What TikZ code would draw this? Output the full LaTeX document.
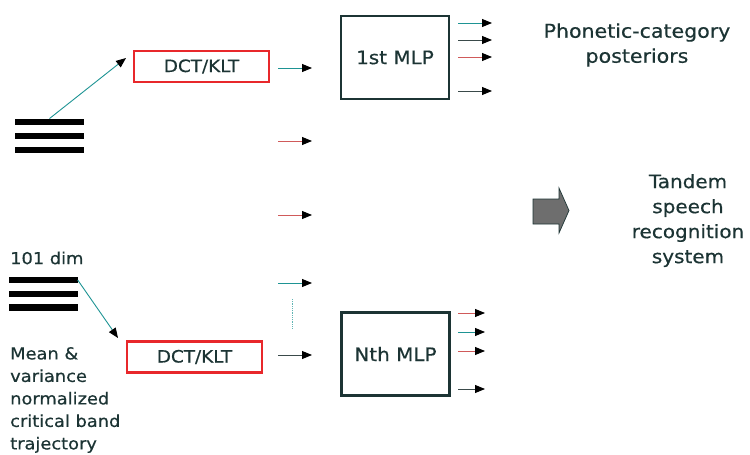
\documentclass[tikz,border=0pt]{standalone}
\usepackage{fontspec}
\setmainfont{DejaVu Sans}[FakeStretch=1.08, FakeBold=0.5]
\usetikzlibrary{arrows.meta}
\definecolor{ink}{HTML}{1C3434}
\definecolor{frame}{HTML}{E8282B}
\definecolor{tealline}{HTML}{1E9494}
\definecolor{redline}{HTML}{D05A5A}
\definecolor{darkline}{HTML}{3A4A4A}
\definecolor{blockfill}{HTML}{6E6E6E}
\tikzset{
  sig/.style={-{Triangle[length=10pt,width=8pt,color=black]}, line width=0.9pt},
  bar/.style={fill=black, draw=none, minimum width=69pt, minimum height=6.5pt, inner sep=0pt},
  transform/.style={draw=frame, line width=2.2pt, minimum width=135pt, minimum height=31pt,
    inner sep=0pt, font=\fontsize{17}{20}\selectfont, text=ink},
  mlp/.style={draw=ink, line width=2.2pt, minimum width=108pt, minimum height=83pt,
    inner sep=0pt, font=\fontsize{18.5}{22}\selectfont, text=ink},
  label/.style={text=ink, inner sep=0pt}
}
\begin{document}
\begin{tikzpicture}[x=1pt,y=-1pt]
\useasboundingbox (0,0) rectangle (750,455);

% feature trajectories (stacked bars)
\node[bar] (tb1) at (49.5,122) {};
\node[bar] (tb2) at (49.5,136) {};
\node[bar] (tb3) at (49.5,150) {};
\node[bar] (bb1) at (43,280) {};
\node[bar] (bb2) at (43,294) {};
\node[bar] (bb3) at (43,307.5) {};

\node[label, anchor=west, font=\fontsize{16.5}{22}\selectfont] (dim) at (10,258) {101 dim};
\node[label, anchor=west, align=left, font=\fontsize{16.5}{22.5}\selectfont] (desc) at (10,400)
  {Mean \&\\variance\\normalized\\critical band\\trajectory};

% transforms
\node[transform] (dct1) at (201.5,66.5) {DCT/KLT};
\node[transform] (dct2) at (194.5,357) {DCT/KLT};

% MLPs
\node[mlp] (mlp1) at (395,57.5) {1st MLP};
\node[mlp] (mlpn) at (395.5,354) {Nth MLP};

% inputs to transforms
\coordinate (t1in) at (126,58);
\coordinate (t2in) at (118,338);
\draw[sig, draw=tealline] (tb1.north) -- (t1in);
\draw[sig, draw=tealline] (bb1.east) -- (t2in);

% streams into the MLP bank
\coordinate (s1a) at (278,68);  \coordinate (s1b) at (312,68);
\coordinate (s2a) at (278,141); \coordinate (s2b) at (312,141);
\coordinate (s3a) at (278,215); \coordinate (s3b) at (312,215);
\coordinate (s4a) at (278,283); \coordinate (s4b) at (312,283);
\coordinate (s5a) at (278,355); \coordinate (s5b) at (312,355);
\draw[sig, draw=tealline] (s1a) -- (s1b);
\draw[sig, draw=redline]  (s2a) -- (s2b);
\draw[sig, draw=redline]  (s3a) -- (s3b);
\draw[sig, draw=tealline] (s4a) -- (s4b);
\draw[sig, draw=darkline] (s5a) -- (s5b);
\coordinate (ga) at (292,299); \coordinate (gb) at (292,329);
\draw[tealline!70, line width=0.8pt, densely dotted] (ga) -- (gb);

% posteriors of the first MLP
\foreach \y/\c [count=\i] in {23/tealline, 40/darkline, 57/redline, 91/darkline}{
  \coordinate (p\i a) at (458,\y); \coordinate (p\i b) at (492,\y);
  \draw[sig, draw=\c] (p\i a) -- (p\i b);
}
% posteriors of the Nth MLP
\foreach \y/\c [count=\i] in {313/redline, 332/tealline, 351/redline, 389/darkline}{
  \coordinate (q\i a) at (458,\y); \coordinate (q\i b) at (485,\y);
  \draw[sig, draw=\c] (q\i a) -- (q\i b);
}

\node[label, align=center, font=\fontsize{19}{25}\selectfont] (post) at (637,45)
  {Phonetic-category\\posteriors};

% block arrow into the recogniser
\draw[fill=blockfill, draw=ink, line width=0.7pt]
  (533,199) -- (559,199) -- (559,188) -- (569,210.5) -- (559,233) -- (559,224) -- (533,224) -- cycle;

\node[label, align=center, font=\fontsize{18.5}{25}\selectfont] (asr) at (688,220.5)
  {Tandem\\speech\\recognition\\system};
\end{tikzpicture}
\end{document}
